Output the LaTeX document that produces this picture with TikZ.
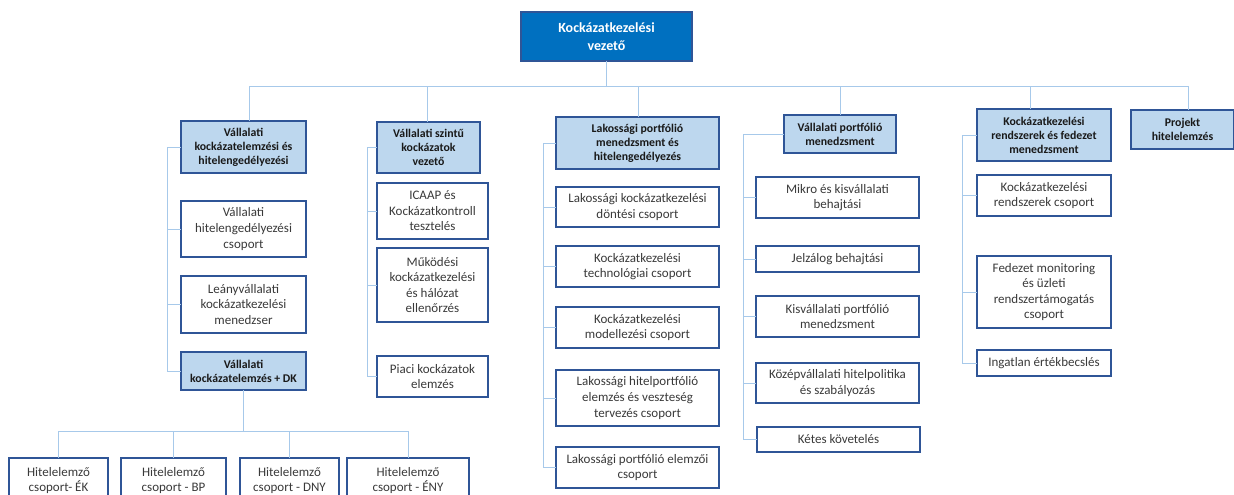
\documentclass[tikz,border=0pt]{standalone}
\usepackage{fontspec}
\setmainfont{Carlito}
\definecolor{rootfill}{HTML}{0070C0}
\definecolor{boxline}{HTML}{2F5597}
\definecolor{hdrfill}{HTML}{BDD7EE}
\definecolor{conncol}{HTML}{A7C9EA}
\definecolor{txtgray}{HTML}{3A3A3A}
\tikzset{
 basebox/.style={draw=boxline, line width=1.8pt, inner sep=0pt, outer sep=0pt, align=center},
 rootbox/.style={basebox, fill=rootfill, draw=boxline, text=white, font=\fontsize{14}{18.5}\selectfont\bfseries},
 hdrbox/.style={basebox, fill=hdrfill, text=black!90, font=\fontsize{11.8}{14}\selectfont\bfseries},
 subbox/.style={basebox, fill=white, text=txtgray, font=\fontsize{13}{15.6}\selectfont},
 conn/.style={draw=conncol, line width=1pt},
}
\newcommand\obox[7]{\node[#2, minimum width={(#5-#3)*1pt}, minimum height={(#6-#4)*1pt}] (#1) at ({(#3+#5)/2},{(#4+#6)/2}) {#7};}
\begin{document}
\begin{tikzpicture}[x=1pt,y=-1pt]
\clip (0,0) rectangle (1234,495);
\fill[white] (0,0) rectangle (1234,495);
% coordinates for bus drops and spines
\coordinate (dA) at (249,86);
\coordinate (dB) at (427,86);
\coordinate (dC) at (638,86);
\coordinate (dD) at (840,86);
\coordinate (dE) at (1030,86);
\coordinate (dF) at (1188,86);
\coordinate (sA) at (167,0);
\coordinate (sB) at (367,0);
\coordinate (sC) at (543,0);
\coordinate (sD) at (743,0);
\coordinate (sE) at (962,0);
\coordinate (bl) at (59,431);
\coordinate (br) at (408,431);
% root
\obox{root}{rootbox}{521}{12}{692}{61}{Kockázatkezelési\\vezető}
% headers
\obox{A}{hdrbox}{181}{121}{306}{173}{Vállalati\\kockázatelemzési és\\hitelengedélyezési}
\obox{B}{hdrbox}{377}{122}{480}{173}{Vállalati szintű\\kockázatok\\vezető}
\obox{C}{hdrbox}{556}{117}{719}{169}{Lakossági portfólió\\menedzsment és\\hitelengedélyezés}
\obox{D}{hdrbox}{784}{115}{896}{153}{Vállalati portfólió\\menedzsment}
\obox{E}{hdrbox}{977}{109}{1111}{161}{Kockázatkezelési\\rendszerek és fedezet\\menedzsment}
\obox{F}{hdrbox}{1131}{110}{1234}{149}{Projekt\\hitelelemzés}
% column A
\obox{A1}{subbox}{181}{201}{306}{257}{Vállalati\\hitelengedélyezési\\csoport}
\obox{A2}{subbox}{181}{276}{306}{333}{Leányvállalati\\kockázatkezelési\\menedzser}
\obox{A3}{hdrbox}{181}{352}{306}{390}{Vállalati\\kockázatelemzés + DK}
% column B
\obox{B1}{subbox}{377}{183}{488}{239}{ICAAP és\\Kockázatkontroll\\tesztelés}
\obox{B2}{subbox}{377}{248}{488}{322}{Működési\\kockázatkezelési\\és hálózat\\ellenőrzés}
\obox{B3}{subbox}{377}{356}{488}{397}{Piaci kockázatok\\elemzés}
% column C
\obox{C1}{subbox}{556}{187}{719}{227}{Lakossági kockázatkezelési\\döntési csoport}
\obox{C2}{subbox}{556}{246}{719}{287}{Kockázatkezelési\\technológiai csoport}
\obox{C3}{subbox}{556}{307}{719}{348}{Kockázatkezelési\\modellezési csoport}
\obox{C4}{subbox}{556}{370}{719}{426}{Lakossági hitelportfólió\\elemzés és veszteség\\tervezés csoport}
\obox{C5}{subbox}{556}{447}{719}{488}{Lakossági portfólió elemzői\\csoport}
% column D
\obox{D1}{subbox}{756}{177}{919}{218}{Mikro és kisvállalati\\behajtási}
\obox{D2}{subbox}{756}{246}{919}{272}{Jelzálog behajtási}
\obox{D3}{subbox}{756}{296}{919}{337}{Kisvállalati portfólió\\menedzsment}
\obox{D4}{subbox}{756}{363}{919}{403}{Középvállalati hitelpolitika\\és szabályozás}
\obox{D5}{subbox}{757}{427}{920}{452}{Kétes követelés}
% column E
\obox{E1}{subbox}{977}{175}{1111}{216}{Kockázatkezelési\\rendszerek csoport}
\obox{E2}{subbox}{977}{256}{1111}{328}{Fedezet monitoring\\és üzleti\\rendszertámogatás\\csoport}
\obox{E3}{subbox}{977}{350}{1111}{376}{Ingatlan értékbecslés}
% bottom row
\obox{G1}{subbox}{9}{458}{108}{503}{Hitelelemző\\csoport- ÉK}
\obox{G2}{subbox}{121}{458}{226}{503}{Hitelelemző\\csoport - BP}
\obox{G3}{subbox}{240}{458}{339}{503}{Hitelelemző\\csoport - DNY}
\obox{G4}{subbox}{347}{458}{469}{503}{Hitelelemző\\csoport - ÉNY}
% top connectors
\draw[conn] (root.south) -- (root.south |- dA);
\draw[conn] (dA) -- (dF);
\foreach \n/\d in {A/dA,B/dB,C/dC,D/dD,E/dE,F/dF}
  \draw[conn] (\d) -- (\d |- \n.north);
% spines
\draw[conn] (A.west) -- (A.west -| sA) -- (A3.west -| sA) -- (A3.west);
\foreach \n in {A1,A2} \draw[conn] (\n.west -| sA) -- (\n.west);
\draw[conn] (B.west) -- (B.west -| sB) -- (B3.west -| sB) -- (B3.west);
\foreach \n in {B1,B2} \draw[conn] (\n.west -| sB) -- (\n.west);
\draw[conn] (C.west) -- (C.west -| sC) -- (C5.west -| sC) -- (C5.west);
\foreach \n in {C1,C2,C3,C4} \draw[conn] (\n.west -| sC) -- (\n.west);
\draw[conn] (D.west) -- (D.west -| sD) -- (D5.west -| sD) -- (D5.west);
\foreach \n in {D1,D2,D3,D4} \draw[conn] (\n.west -| sD) -- (\n.west);
\draw[conn] (E.west) -- (E.west -| sE) -- (E3.west -| sE) -- (E3.west);
\foreach \n in {E1,E2} \draw[conn] (\n.west -| sE) -- (\n.west);
% bottom tree
\draw[conn] (A3.south) -- (A3.south |- bl);
\draw[conn] (bl) -- (br);
\foreach \n in {G1,G2,G3,G4} \draw[conn] (\n.north |- bl) -- (\n.north);
\end{tikzpicture}
\end{document}
